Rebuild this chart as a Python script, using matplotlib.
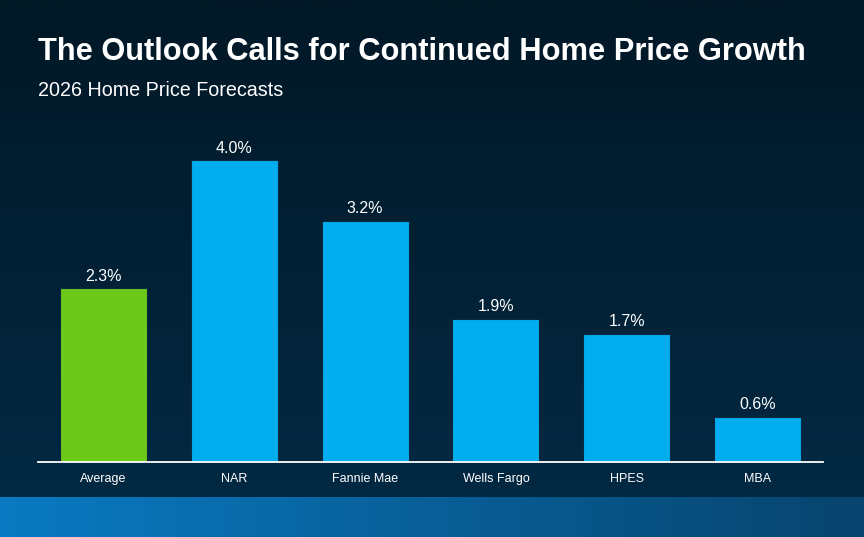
import numpy as np
import matplotlib
matplotlib.use('Agg')
from matplotlib import pyplot as plt

categories = ['Average', 'NAR', 'Fannie Mae', 'Wells Fargo', 'HPES', 'MBA']
forecasts = [2.3, 4.0, 3.2, 1.9, 1.7, 0.6]
bar_colors = ['#6cc91a', '#00aeef', '#00aeef', '#00aeef', '#00aeef', '#00aeef']

plt.rcParams['font.family'] = ['Liberation Sans', 'DejaVu Sans']

fig = plt.figure(figsize=(8.64, 5.37), dpi=100)

# background gradient (dark navy, a bit bluer lower down)
bg = fig.add_axes([0, 0, 1, 1], zorder=0)
bg.set_axis_off()
t = np.linspace(0, 1, 256)[:, None]
top = np.array([0x01, 0x18, 0x26]) / 255
bottom = np.array([0x03, 0x2a, 0x45]) / 255
grad = top + (bottom - top) * t[..., None]
grad = np.repeat(grad, 2, axis=1)
bg.imshow(grad, aspect='auto', extent=[0, 1, 1, 0])
bg.set_xlim(0, 1)
bg.set_ylim(1, 0)

# bottom blue band
band = fig.add_axes([0, 0, 1, 40 / 537], zorder=1)
band.set_axis_off()
h = np.linspace(0, 1, 256)[None, :]
left_c = np.array([0x0a, 0x7a, 0xc2]) / 255
right_c = np.array([0x07, 0x44, 0x6e]) / 255
bgrad = left_c + (right_c - left_c) * h[..., None]
bgrad = np.repeat(bgrad, 2, axis=0)
band.imshow(bgrad, aspect='auto', extent=[0, 1, 0, 1])

ax = fig.add_axes([38 / 864, 75 / 537, 785 / 864, 332 / 537], zorder=2)
ax.patch.set_alpha(0)
x = np.arange(len(categories))
bars = ax.bar(x, forecasts, width=0.665, color=bar_colors,
              edgecolor='#0b2a40', linewidth=0.8)
for b, v in zip(bars, forecasts):
    ax.text(b.get_x() + b.get_width() / 2, v + 0.06, f'{v:.1f}%',
            ha='center', va='bottom', color='white', fontsize=11.5)

ax.set_xlim(-0.5, 5.5)
ax.set_ylim(0, 4.4)
ax.set_yticks([])
ax.set_xticks(x)
ax.set_xticklabels(categories, color='white', fontsize=9)
ax.tick_params(axis='x', length=0, pad=8)
for s in ['top', 'right', 'left']:
    ax.spines[s].set_visible(False)
ax.spines['bottom'].set_color('white')
ax.spines['bottom'].set_linewidth(1.3)

fig.text(38 / 864, 1 - 52 / 537, 'The Outlook Calls for Continued Home Price Growth',
         color='white', fontsize=22.2, fontweight='bold', va='center', ha='left')
fig.text(38 / 864, 1 - 91 / 537, '2026 Home Price Forecasts',
         color='white', fontsize=14.2, va='center', ha='left')

fig.savefig('out.png', dpi=100)
